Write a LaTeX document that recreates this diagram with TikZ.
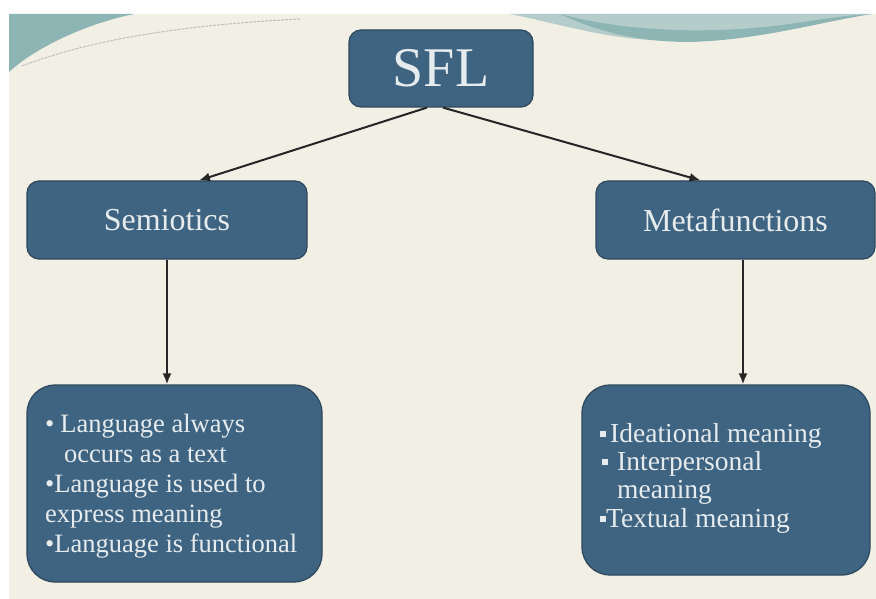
\documentclass[tikz,border=0pt]{standalone}
\usepackage{fontspec}
\setmainfont{Liberation Serif}
\usetikzlibrary{arrows.meta}
\definecolor{boxblue}{HTML}{3F6482}
\definecolor{boxedge}{HTML}{2D475C}
\definecolor{paper}{HTML}{F2EFE5}
\definecolor{swooshdark}{HTML}{8DB5B4}
\definecolor{swooshlight}{HTML}{B4CDCB}
\definecolor{inktext}{HTML}{E6ECEE}
\newcommand{\sqbullet}{\raisebox{5pt}{\rule{6pt}{6pt}}}
\begin{document}
\begin{tikzpicture}[x=1pt,y=-1pt,
  panel/.style={draw=boxedge, line width=1.2pt, fill=boxblue, text=inktext, rounded corners=12pt, inner sep=0pt},
  bigpanel/.style={panel, rounded corners=28pt},
  item/.style={text=inktext, anchor=base west, inner sep=0pt, font=\fontsize{26.5}{28}\selectfont},
  ritem/.style={item, font=\fontsize{27.5}{28}\selectfont},
  link/.style={-{Latex[length=11pt,width=9pt]}, line width=2pt, draw=black!85}]
\useasboundingbox (0,0) rectangle (876,599);
\fill[white] (0,0) rectangle (876,599);
\fill[paper] (9,14) rectangle (876,599);

% decorative swooshes along the top edge
\fill[swooshdark] (9,14) -- (134,14) .. controls (85,24) and (35,48) .. (9,72) -- cycle;
\draw[black!25, line width=1pt, dash pattern=on 3pt off 1pt] (22,66) .. controls (90,40) and (180,25) .. (300,19);
\fill[swooshlight] (510,14) -- (872,14) .. controls (800,22) and (760,34) .. (690,40)
  .. controls (620,44) and (570,26) .. (510,14) -- cycle;
\fill[swooshdark] (560,14) .. controls (620,30) and (700,36) .. (790,24)
  .. controls (830,18) and (850,15) .. (872,14) .. controls (820,22) and (760,40) .. (690,42)
  .. controls (630,42) and (590,28) .. (560,14) -- cycle;

% boxes
\node[panel, minimum width=184, minimum height=77, font=\fontsize{56}{56}\selectfont] (sfl) at (441,68.5) {SFL};
\node[panel, minimum width=280, minimum height=78, font=\fontsize{32}{32}\selectfont] (sem) at (167,220) {Semiotics};
\node[panel, minimum width=279, minimum height=78, font=\fontsize{32}{32}\selectfont] (meta) at (735.5,220) {Metafunctions};
\node[bigpanel, minimum width=295, minimum height=197] (lb) at (174.5,483.5) {};
\node[bigpanel, minimum width=288, minimum height=190] (rb) at (726,480) {};

% left list
\node[item] (l1) at (45,432) {\textbullet\hspace{6pt}Language always};
\node[item] (l2) at (64,462) {occurs as a text};
\node[item] (l3) at (45,492) {\textbullet Language is used to};
\node[item] (l4) at (45,522) {express meaning};
\node[item] (l5) at (45,552) {\textbullet Language is functional};

% right list
\node[ritem] (r1) at (600,442) {\sqbullet\hspace{4pt}Ideational meaning};
\node[ritem] (r2) at (602,470) {\sqbullet\hspace{9pt}Interpersonal};
\node[ritem] (r3) at (617,498) {meaning};
\node[ritem] (r4) at (600,527) {\sqbullet Textual meaning};

% connectors
\draw[link] ([xshift=-14]sfl.south) -- ([xshift=32]sem.north);
\draw[link] ([xshift=2]sfl.south) -- ([xshift=-35]meta.north);
\draw[link] (sem.south) -- (sem.south |- lb.north);
\draw[link] ([xshift=7.5]meta.south) -- ([xshift=7.5]meta.south |- rb.north);
\end{tikzpicture}
\end{document}
